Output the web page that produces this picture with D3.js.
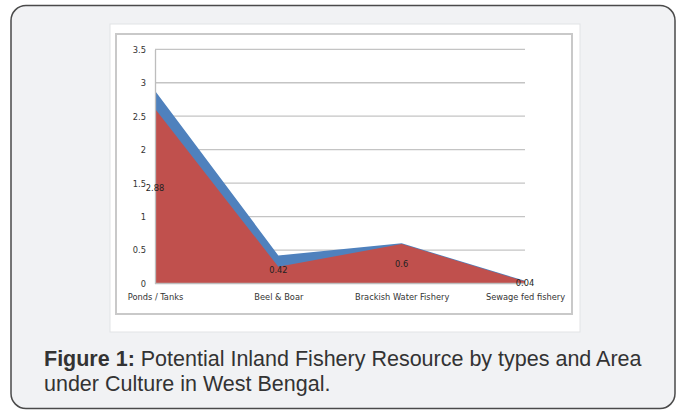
<!DOCTYPE html>
<html>
<head>
<meta charset="utf-8">
<script src="https://cdn.jsdelivr.net/npm/d3@7/dist/d3.min.js"></script>
<style>
  html, body { margin: 0; padding: 0; background: #ffffff; }
  svg { display: block; }
</style>
</head>
<body>
<svg id="fig" width="683" height="410"></svg>
<script>
// Inland fishery resource (lakh ha) by type
const categories = ["Ponds / Tanks", "Beel & Boar", "Brackish Water Fishery", "Sewage fed fishery"];
const potential = [2.88, 0.42, 0.6, 0.04];      // potential resource (labelled)
const underCulture = [2.61, 0.25, 0.59, 0.03];   // area under culture
const yTicks = [0, 0.5, 1, 1.5, 2, 2.5, 3, 3.5];
const captionBold = "Figure 1:";
const captionRest = [" Potential Inland Fishery Resource by types and Area", "under Culture in West Bengal."];

const svg = d3.select("#fig");
const chartFont = "'Liberation Sans Narrow', 'DejaVu Sans Condensed', 'Arial Narrow', sans-serif";
const chartFontSize = 9.2;

// card frame
svg.append("rect")
  .attr("x", 11).attr("y", 5.5).attr("width", 664).attr("height", 403)
  .attr("rx", 15).attr("ry", 15)
  .attr("fill", "#f1f2f4").attr("stroke", "#4a4a4a").attr("stroke-width", 1.5);

// chart image panel
svg.append("rect")
  .attr("x", 110).attr("y", 24).attr("width", 470).attr("height", 308)
  .attr("fill", "#ffffff").attr("stroke", "#e2e3e5").attr("stroke-width", 1);
svg.append("rect")
  .attr("x", 116).attr("y", 34).attr("width", 456).attr("height", 280)
  .attr("fill", "#ffffff").attr("stroke", "#c9c9c9").attr("stroke-width", 2);

const x = d3.scalePoint().domain(categories).range([155, 525]);
const y = d3.scaleLinear().domain([0, 3.5]).range([283.5, 49.3]);

// gridlines
svg.append("g").selectAll("line")
  .data(yTicks.filter(d => d > 0))
  .join("line")
  .attr("x1", 155).attr("x2", 525)
  .attr("y1", d => y(d)).attr("y2", d => y(d))
  .attr("stroke", "#c4c4c4").attr("stroke-width", 1.3);

const area = d3.area()
  .x((d, i) => x(categories[i]))
  .y0(y(0))
  .y1(d => y(d));

svg.append("path").datum(potential)
  .attr("d", area).attr("fill", "#4f81bd");
svg.append("path").datum(underCulture)
  .attr("d", area).attr("fill", "#c0504d");

// axes
const yAxis = d3.axisLeft(y).tickValues(yTicks).tickSize(0).tickPadding(9)
  .tickFormat(d => d);
const gy = svg.append("g").attr("transform", "translate(155,0)").call(yAxis);
gy.select(".domain").attr("stroke", "#bdbdbd").attr("stroke-width", 1.3);
gy.selectAll("text").attr("font-family", chartFont).attr("font-size", chartFontSize).attr("fill", "#333");

const xAxis = d3.axisBottom(x).tickSize(0).tickPadding(10);
const gx = svg.append("g").attr("transform", `translate(0,${y(0)})`).call(xAxis);
gx.select(".domain").attr("stroke", "#bdbdbd").attr("stroke-width", 1.3).attr("d", `M155,0H525`);
gx.selectAll("text").attr("font-family", chartFont).attr("font-size", chartFontSize).attr("fill", "#333");

// value labels at half height of each potential value
svg.append("g").selectAll("text")
  .data(potential)
  .join("text")
  .attr("x", (d, i) => x(categories[i]))
  .attr("y", d => y(d / 2) + 4)
  .attr("text-anchor", "middle")
  .attr("font-family", chartFont).attr("font-size", chartFontSize).attr("fill", "#222")
  .text(d => d);

// caption
const cap = svg.append("g").attr("font-family", "'Liberation Sans', Arial, sans-serif")
  .attr("font-size", 21.5).attr("fill", "#333");
const t1 = cap.append("text").attr("x", 44).attr("y", 366);
t1.append("tspan").attr("font-weight", "bold").text(captionBold);
t1.append("tspan").text(captionRest[0]);
cap.append("text").attr("x", 44).attr("y", 391).text(captionRest[1]);
</script>
</body>
</html>
